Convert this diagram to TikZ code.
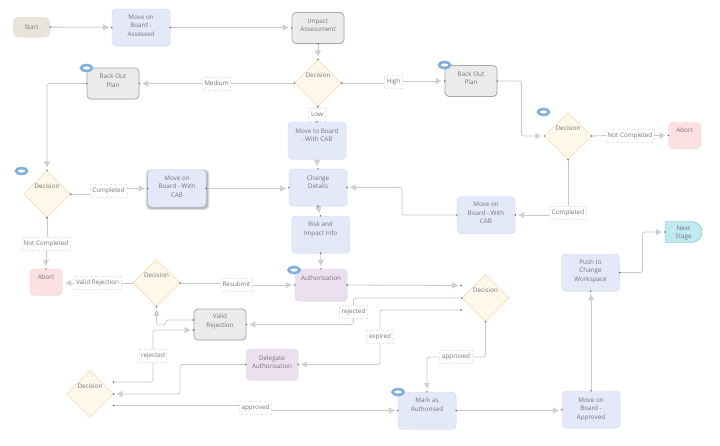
\documentclass[tikz,border=0pt]{standalone}
\usepackage{fontspec}
\setmainfont{Open Sans}
\usetikzlibrary{arrows.meta,shapes.geometric,shapes.misc,shadows}
\definecolor{linegray}{HTML}{C9C9C9}
\definecolor{tipgray}{HTML}{CFCFCF}
\definecolor{inkgray}{HTML}{74747C}
\definecolor{taskfill}{HTML}{E3E9F8}
\definecolor{taskline}{HTML}{D0DBF3}
\definecolor{reviewfill}{HTML}{EBEBEB}
\definecolor{reviewline}{HTML}{A8A8A8}
\definecolor{startfill}{HTML}{E8E4DA}
\definecolor{decfill}{HTML}{FDF8EA}
\definecolor{decline}{HTML}{F1CB97}
\definecolor{abortfill}{HTML}{FDE0E2}
\definecolor{abortline}{HTML}{F8D0D4}
\definecolor{authfill}{HTML}{EBDFF0}
\definecolor{authline}{HTML}{DDD0E6}
\definecolor{nextfill}{HTML}{BFEAF0}
\definecolor{nextline}{HTML}{5FB7C0}
\definecolor{tagblue}{HTML}{7FB0DC}
% text sits above the middle of most shapes
\newcommand{\lift}[2]{\raisebox{\dimexpr#1pt-2.2pt\relax}[0pt][0pt]{$\vcenter{\hbox{\begin{tabular}{@{}c@{}}#2\end{tabular}}}$}}
\tikzset{
  every node/.style={font=\fontsize{6.3}{8.5}\selectfont,text=inkgray,inner sep=0pt},
  softshadow/.style={drop shadow={opacity=.12,shadow xshift=.6pt,shadow yshift=-.8pt}},
  taskbox/.style={draw=taskline,fill=taskfill,rounded corners=4pt,minimum width=58pt,minimum height=37pt,softshadow},
  reviewbox/.style={draw=reviewline,fill=reviewfill,rounded corners=4pt,line width=.8pt,minimum width=52pt,minimum height=31pt,softshadow},
  authbox/.style={draw=authline,fill=authfill,rounded corners=4pt,minimum width=52pt,minimum height=32pt,softshadow},
  abortbox/.style={draw=abortline,fill=abortfill,rounded corners=4pt,minimum width=32pt,minimum height=26pt,softshadow},
  decision/.style={shape=diamond,draw=decline,fill=decfill,minimum width=47pt,minimum height=47pt},
  tagmark/.style={ellipse,draw=tagblue,line width=2.6pt,fill=white,minimum width=11pt,minimum height=6pt},
  edgelabel/.style={draw=black!9,densely dashed,line width=.4pt,fill=white,minimum height=13pt},
  link/.style={draw=linegray,line width=.8pt,rounded corners=2.5pt},
  flow/.style={link,-{Triangle[width=6pt,length=6pt,color=tipgray]},shorten >=3pt},
  portdot/.style={fill=black!65},
}
\begin{document}
\begin{tikzpicture}[x=1pt,y=-1pt]
\useasboundingbox (0,0) rectangle (720,445);
% top row
\node [draw=startfill,fill=startfill,rounded corners=6pt,minimum width=37pt,minimum height=20pt,softshadow] (start) at (31.5,27) {Start};
\node [taskbox] (assessed) at (141,27.5) {\lift{2}{Move on\\Board -\\Assessed}};
\node [reviewbox] (impact) at (318,28) {\lift{3}{Impact\\Assessment}};
\node [decision] (decTop) at (318,83) {\lift{8}{Decision}};
\node [reviewbox] (backLeft) at (113,83.5) {\lift{3}{Back Out\\Plan}};
\node [reviewbox] (backRight) at (471,81) {\lift{3}{Back Out\\Plan}};
\node [decision] (decRight) at (568,136) {\lift{8}{Decision}};
\node [abortbox] (abortRight) at (684.5,135.5) {\lift{5}{Abort}};
% middle column
\node [taskbox] (toBoard) at (317,140.5) {\lift{5.5}{Move to Board\\- With CAB}};
\node [taskbox] (change) at (318,187.5) {\lift{5.5}{Change\\Details}};
\node [taskbox] (risk) at (320.5,234.5) {\lift{6}{Risk and\\Impact Info}};
\node [authbox] (auth) at (321,285) {\lift{7}{Authorisation}};
\node [decision] (decLeft) at (47,194) {\lift{8}{Decision}};
\node [taskbox,general shadow={fill=black,opacity=.13,shadow scale=1.1,shadow xshift=.5pt,shadow yshift=-1pt},
  general shadow={fill=black,opacity=.16,shadow scale=1.05,shadow xshift=.6pt,shadow yshift=-1pt}] (cabLeft) at (177,188.5) {\lift{2}{Move on\\Board - With\\CAB}};
\node [taskbox] (cabRight) at (486,215) {\lift{2}{Move on\\Board - With\\CAB}};
\node [abortbox] (abortLeft) at (46,282) {\lift{5}{Abort}};
% lower part
\node [decision] (decMid) at (156.5,283) {\lift{8}{Decision}};
\node [reviewbox] (validRej) at (220,324.5) {\lift{4}{Valid\\Rejection}};
\node [authbox,minimum height=31pt] (delegate) at (272,364.5) {\lift{2.5}{Delegate\\Authorisation}};
\node [decision] (decLow) at (90,394) {\lift{8}{Decision}};
\node [decision] (decAuth) at (485.5,298) {\lift{8}{Decision}};
\node [taskbox] (marked) at (427,410.5) {\lift{6}{Mark as\\Authorised}};
\node [taskbox] (approved) at (591,409.5) {\lift{1}{Move on\\Board -\\Approved}};
\node [taskbox] (push) at (590.5,272.5) {\lift{2}{Push to\\Change\\Workspace}};
\node [rounded rectangle,rounded rectangle west arc=none,draw=nextline,fill=nextfill,minimum width=37pt,minimum height=21pt] (next) at (683.5,232) {\lift{0}{Next\\Stage}};
% labels on the connectors
\node [edgelabel,minimum width=28pt] (lMedium) at (216.5,83.5) {Medium};
\node [edgelabel,minimum width=18pt] (lHigh) at (393.5,81.5) {High};
\node [edgelabel,minimum width=17pt] (lLow) at (317,114.5) {Low};
\node [edgelabel,minimum width=37pt] (lDoneLeft) at (108.5,191) {Completed};
\node [edgelabel,minimum width=37pt] (lDoneRight) at (568,212.5) {Completed};
\node [edgelabel,minimum width=48pt] (lNotLeft) at (46,243.5) {Not Completed};
\node [edgelabel,minimum width=48pt] (lNotRight) at (630,135.5) {Not Completed};
\node [edgelabel,minimum width=48pt] (lValid) at (97.5,283) {Valid Rejection};
\node [edgelabel,minimum width=32pt] (lResubmit) at (236.5,284.5) {Resubmit};
\node [edgelabel,minimum width=27pt] (lRejLow) at (153,356) {rejected};
\node [edgelabel,minimum width=28pt] (lRejHigh) at (353.5,311.5) {rejected};
\node [edgelabel,minimum width=27pt] (lExpired) at (380,337) {expired};
\node [edgelabel,minimum width=33pt] (lAppRight) at (456,357) {approved};
\node [edgelabel,minimum width=32pt] (lAppLow) at (255.5,407.5) {approved};
% side ports and bends
\coordinate (authPortA) at (461,285.5);
\coordinate (authPortB) at (461,310);
\coordinate (lowPortA) at (113.5,382);
\coordinate (lowPortB) at (113.5,405.5);
\coordinate (rejPortA) at (193.5,320);
\coordinate (rejPortB) at (193.5,330);
\coordinate (rejBendA) at (165.5,320);
\coordinate (rejBendB) at (165.5,325);
\coordinate (rejBendC) at (156.5,325);
\coordinate (cabBend) at (402,200);
\coordinate (backBend) at (521.5,100);
\coordinate (delBend) at (180,380);
\coordinate (pushBend) at (642.5,250);
% connectors
\draw [flow] (start) -- (assessed);
\draw [flow] (assessed) -- (assessed -| impact.west);
\draw [flow] (impact) -- (decTop);
\draw [link] (decTop.west) -- (decTop.west -| lMedium.east);
\draw [flow] (lMedium.west |- backLeft.east) -- (backLeft.east);
\draw [link] (decTop.east) -- (decTop.east -| lHigh.west);
\draw [flow] (lHigh.east |- backRight.west) -- (backRight.west);
\draw [link] (decTop.south) -- (lLow.north);
\draw [link] (lLow.south) -- (toBoard.north);
\draw [flow] (backLeft.west) -| (decLeft.north);
\draw [flow] (backRight.east) -| (backBend) |- (decRight.west);
\draw [link] (decRight.east) -- (lNotRight.west);
\draw [flow] (lNotRight.east) -- (abortRight.west);
\draw [link] (decRight.south) -- (lDoneRight.north);
\draw [flow] (lDoneRight.west |- cabRight.east) -- (cabRight.east);
\draw [flow] (cabRight.west) -| (cabBend) |- (change.east);
\draw [link] (decLeft.east) -- (decLeft.east -| lDoneLeft.west);
\draw [flow] (lDoneLeft.east |- cabLeft.west) -- (cabLeft.west);
\draw [flow] (cabLeft.east) -- (cabLeft.east -| change.west);
\draw [flow] (toBoard) -- (toBoard |- change.north);
\draw [flow] (change.south) -- (risk.north);
\draw [flow] (risk) -- (auth);
\draw [link] (decLeft.south) -- (decLeft.south |- lNotLeft.north);
\draw [flow] (lNotLeft.south) -- (abortLeft.north);
\draw [link] (decMid.west) -- (lValid.east);
\draw [flow] (lValid.west) -- (lValid.west -| abortLeft.east);
\draw [link] (decMid.east) -- (decMid.east -| lResubmit.west);
\draw [flow] (lResubmit.east |- auth.west) -- (auth.west);
\draw [flow] (auth.east) -- (authPortA);
\draw [link] (decAuth.west) -| (lRejHigh.north);
\draw [flow] (lRejHigh.south) |- (validRej.east);
\draw [link] (authPortB) -| (lExpired.north);
\draw [flow] (lExpired.south) |- (delegate.east);
\draw [link] (decAuth.south) |- (lAppRight.east);
\draw [flow] (lAppRight.west) -| (marked.north);
\draw [flow] (rejPortA) -- (rejBendA) -- (rejBendB) -- (rejBendC) -- (decMid.south);
\draw [link] (lowPortA) -| (lRejLow.south);
\draw [flow] (lRejLow.north) |- (rejPortB);
\draw [flow] (delegate.west) -| (delBend) |- (decLow.east);
\draw [link] (lowPortB) -- (lowPortB -| lAppLow.west);
\draw [flow] (lAppLow.east |- marked.west) -- (marked.west);
\draw [flow] (marked.east) -- (marked.east -| approved.west);
\draw [flow] (approved) -- (approved |- push.south);
\draw [flow] (push.east) -| (pushBend) |- (next.west);
% small ports
\foreach \p in {start.east,assessed.west,assessed.east,impact.west,impact.south,decTop.north,decTop.south,decTop.east,decTop.west,
  backLeft.west,backLeft.east,backRight.west,backRight.east,decRight.west,decRight.east,decRight.south,abortRight.west,
  toBoard.north,change.north,change.west,change.east,change.south,risk.north,risk.south,auth.north,auth.west,auth.east,
  decLeft.north,decLeft.east,decLeft.south,cabLeft.west,cabLeft.east,cabRight.east,cabRight.west,abortLeft.north,
  decMid.east,decMid.south,validRej.east,rejPortA,rejPortB,delegate.west,delegate.east,lowPortA,decLow.east,lowPortB,
  authPortA,decAuth.west,authPortB,decAuth.south,marked.north,marked.west,marked.east,approved.west,approved.north,
  push.south,push.east,next.west}
  \fill [portdot] (\p) circle (.8pt);
% tags on the corners
\foreach \i/\x/\y in {a/86.5/68,b/21.5/171,c/444.5/65,d/543.5/112,e/294/270,f/398/392}
  \node [tagmark] (tag\i) at (\x,\y) {};
\end{tikzpicture}
\end{document}
